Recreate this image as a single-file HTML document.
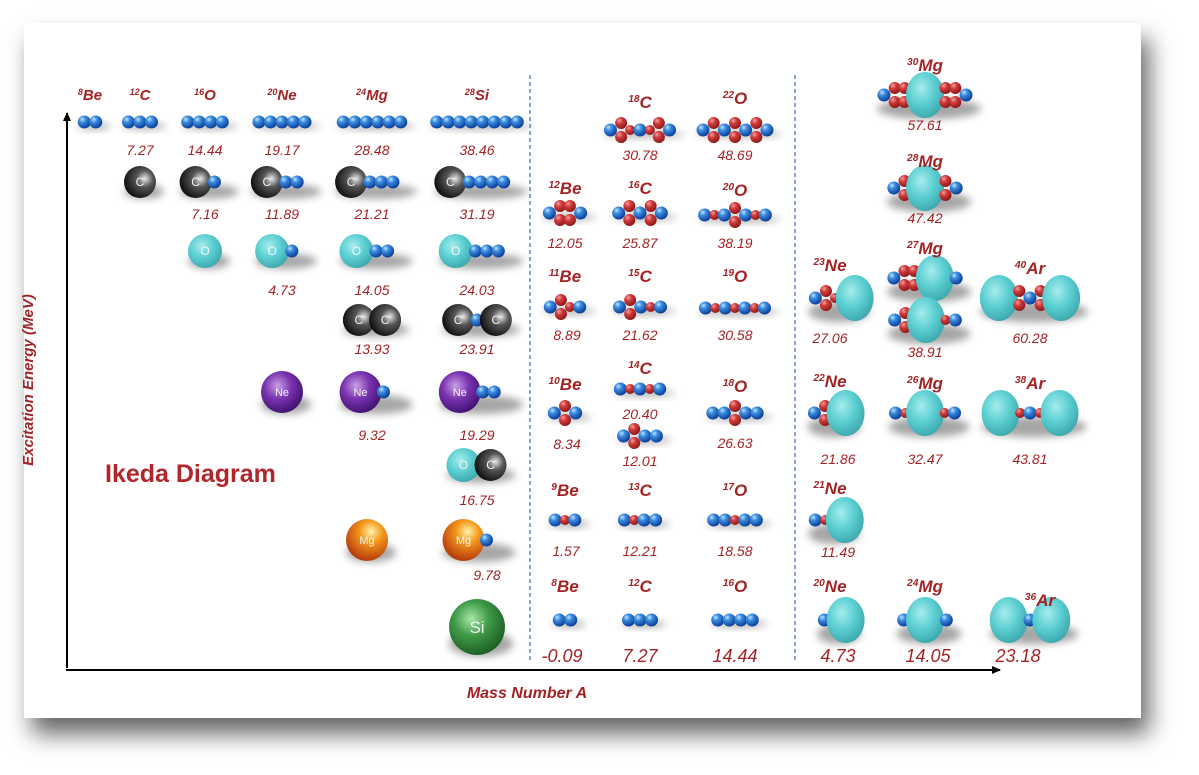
<!DOCTYPE html>
<html><head><meta charset="utf-8"><style>
html,body{margin:0;padding:0;background:#fff;width:1199px;height:775px;overflow:hidden}
#card{position:absolute;left:24px;top:23px;width:1117px;height:695px;background:#fff;box-shadow:8px 16px 22px rgba(0,0,0,0.6)}
svg{position:absolute;left:0;top:0}
text{font-family:"Liberation Sans",sans-serif}
</style></head><body>
<div id="card"></div>
<svg id="svg" width="1199" height="775">
<defs>
<radialGradient id="gb" cx="35%" cy="30%" r="70%"><stop offset="0" stop-color="#bfe6ff"/><stop offset="0.35" stop-color="#3c8de0"/><stop offset="1" stop-color="#0b3f9a"/></radialGradient>
<radialGradient id="gr" cx="35%" cy="30%" r="70%"><stop offset="0" stop-color="#f0a0a0"/><stop offset="0.4" stop-color="#d23a3a"/><stop offset="1" stop-color="#8e1a1a"/></radialGradient>
<radialGradient id="gk" cx="65%" cy="40%" r="75%"><stop offset="0" stop-color="#e8e8e8"/><stop offset="0.35" stop-color="#555"/><stop offset="1" stop-color="#000"/></radialGradient>
<radialGradient id="gc" cx="40%" cy="35%" r="70%"><stop offset="0" stop-color="#a6ecec"/><stop offset="0.5" stop-color="#5ccfd2"/><stop offset="1" stop-color="#3aa5aa"/></radialGradient>
<radialGradient id="gp" cx="40%" cy="35%" r="70%"><stop offset="0" stop-color="#c9a0e6"/><stop offset="0.45" stop-color="#7a34b0"/><stop offset="1" stop-color="#3c0e6a"/></radialGradient>
<radialGradient id="go" cx="60%" cy="30%" r="75%"><stop offset="0" stop-color="#fff4b0"/><stop offset="0.35" stop-color="#f59a1e"/><stop offset="1" stop-color="#b0300a"/></radialGradient>
<radialGradient id="gg" cx="40%" cy="35%" r="70%"><stop offset="0" stop-color="#a8e6a8"/><stop offset="0.45" stop-color="#3e9a46"/><stop offset="1" stop-color="#1a5a22"/></radialGradient>
<filter id="sh" x="-30%" y="-50%" width="160%" height="220%"><feGaussianBlur stdDeviation="4"/></filter>
<marker id="arr" markerWidth="10" markerHeight="10" refX="8" refY="5" orient="auto" markerUnits="userSpaceOnUse"><path d="M0,1 L9,5 L0,9 Z" fill="#000"/></marker>
</defs>
<line x1="67" y1="668" x2="67" y2="113" stroke="#000" stroke-width="2" marker-end="url(#arr)"/>
<line x1="66" y1="670" x2="1000" y2="670" stroke="#000" stroke-width="2" marker-end="url(#arr)"/>
<line x1="530" y1="75" x2="530" y2="660" stroke="#4a72c4" stroke-width="1.3" stroke-dasharray="4,3"/>
<line x1="795" y1="75" x2="795" y2="660" stroke="#4a72c4" stroke-width="1.3" stroke-dasharray="4,3"/>
<text x="33" y="380" transform="rotate(-90 33 380)" text-anchor="middle" font-size="15" font-weight="bold" font-style="italic" fill="#a32325">Excitation Energy (MeV)</text>
<text x="527" y="698" text-anchor="middle" font-size="16" font-weight="bold" font-style="italic" fill="#a32325">Mass Number A</text>
<text x="105" y="482" font-size="25" font-weight="bold" fill="#b0262a">Ikeda Diagram</text>
<g id="g"></g>
</svg>
<script>
const headerMass=[8,12,16,20,24,28, 18,22,12,16,20,11,15,19,10,14,18,9,13,17,8,12,16, 30,28,27,23,40,22,26,38,21,20,24,36];
const headerSym=['Be','C','O','Ne','Mg','Si','C','O','Be','C','O','Be','C','O','Be','C','O','Be','C','O','Be','C','O','Mg','Mg','Mg','Ne','Ar','Ne','Mg','Ar','Ne','Ne','Mg','Ar'];
const headerX=[90,140,205,282,372,477, 640,735,565,640,735,565,640,735,565,640,735,565,640,735,565,640,735, 925,925,925,830,1030,830,925,1030,830,830,925,1040];
const headerY=[100,100,100,100,100,100, 108,104,194,194,196,282,282,282,390,374,392,496,496,496,592,592,592, 71,167,254,271,274,387,389,389,494,592,592,606];
const molTok=['b b','b b b','b b b b','b b b b b','b b b b b b','b b b b b b b b',
 'C','C b','C b b','C b b b','C b b b b',
 'O','O b','O b b','O b b b',
 'C C','C b C','Ne','Ne b','Ne b b','O C','Mg','Mg b','Si',
 'b v r b r v b','b v b v b v b','b v v b','b v b v b','b r b v b r b',
 'b v r b','b v b r b','b r b r b r b','b v b','b r b r b','b v b b','b b v b b',
 'b r b','b r b b','b b r b b','b b','b b b','b b b b',
 'b v v X v v b','b v X v b','b v v X b','b v X r b','b v r X','X v b v X',
 'b v X','b r X r b','X r b r X','b r X','b X','b X b','X b X'];
const molX=[90,140,205,282,372,477, 140,205,282,372,477, 205,282,372,477, 372,477,282,372,477,477,367,475,477,
 640,735,565,640,735, 565,640,735,565,640,640,735, 565,640,735,565,640,735,
 925,925,925,925,835,1030, 830,925,1030,830,835,925,1030];
const molY=[122,122,122,122,122,122, 182,182,182,182,182, 251,251,251,251, 320,320,392,392,392,465,540,540,627,
 130,130,213,213,215,307,307,308,413,389,436,413,520,520,520,620,620,620,
 95,188,278,320,298,298, 413,413,413,520,620,620,620];
const valTxt=['7.27','14.44','19.17','28.48','38.46','7.16','11.89','21.21','31.19','4.73','14.05','24.03','13.93','23.91','9.32','19.29','16.75','9.78',
 '30.78','48.69','12.05','25.87','38.19','8.89','21.62','30.58','8.34','20.40','12.01','26.63','1.57','12.21','18.58','-0.09','7.27','14.44',
 '57.61','47.42','38.91','27.06','60.28','21.86','32.47','43.81','11.49','4.73','14.05','23.18'];
const valX=[140,205,282,372,477,205,282,372,477,282,372,477,372,477,372,477,477,487,
 640,735,565,640,735,567,640,735,567,640,640,735,566,640,735,562,640,735,
 925,925,925,830,1030,838,925,1030,838,838,928,1018];
const valY=[155,155,155,155,155,219,219,219,219,295,295,295,354,354,440,440,505,580,
 160,160,248,248,248,340,340,340,449,419,466,448,556,556,556,662,662,662,
 130,223,357,343,343,464,464,464,557,662,662,662];
const valBig=[33,34,35,45,46,47];

const NS='http://www.w3.org/2000/svg';
const G=document.getElementById('g');
function mk(t,a){const e=document.createElementNS(NS,t);for(const k in a)e.setAttribute(k,a[k]);return e;}
const HW={b:7,r:5,v:6,C:16,O:17,Ne:21,Mg:21,Si:28,X:19};
const FILL={b:'gb',r:'gr',v:'gr',C:'gk',O:'gc',Ne:'gp',Mg:'go',Si:'gg',X:'gc'};
function drawMol(tok,cx,cy,i){
  const t=tok.split(' ');const xs=[0];
  for(let k=1;k<t.length;k++){const p=t[k-1],c=t[k];let d=(p==='b'&&c==='b')?11.5:(HW[p]+HW[c])*0.82;xs.push(xs[k-1]+d);}
  const w=xs[xs.length-1];const x0=cx-w/2;
  const g=mk('g',{});
  
  
  const maxH=Math.max(...t.map(s=>s==='X'?23:HW[s]));
  g.appendChild(mk('ellipse',{cx:cx+4,cy:cy+maxH*0.6,rx:w/2+HW[t[0]]+4,ry:maxH*0.45,fill:'#000','fill-opacity':0.35,filter:'url(#sh)'}));
  t.forEach((s,k)=>{
    const x=x0+xs[k];
    if(s==='v'){g.appendChild(mk('circle',{cx:x,cy:cy-7,r:6,fill:'url(#gr)'}));g.appendChild(mk('circle',{cx:x,cy:cy+7,r:6,fill:'url(#gr)'}));}
    else if(s==='X'){g.appendChild(mk('ellipse',{cx:x,cy:cy,rx:19,ry:23,fill:'url(#gc)'}));}
    else{g.appendChild(mk('circle',{cx:x,cy:cy,r:HW[s]+(s==='b'?-0.5:0),fill:'url(#'+FILL[s]+')'}));
      if(['C','O','Ne','Mg','Si'].includes(s)){const tx=mk('text',{x:x,y:cy+(s==='Si'?6:4),'text-anchor':'middle','font-size':s==='Si'?17:(s==='C'||s==='O'?12:11),fill:'#f4f4f4'});tx.textContent=s;g.appendChild(tx);}}
  });
  G.appendChild(g);
}
molTok.forEach((m,i)=>drawMol(m,molX[i],molY[i],i));
headerMass.forEach((m,i)=>{
  const left=i<6;const fs=left?15:17;
  const t=mk('text',{x:headerX[i],y:headerY[i],'text-anchor':'middle','font-size':fs,'font-weight':'bold','font-style':'italic',fill:'#a32325'});
  
  
  const s=mk('tspan',{'font-size':fs*0.6,dy:-fs*0.35});s.textContent=m;
  const n=mk('tspan',{dy:fs*0.35});n.textContent=headerSym[i];
  t.appendChild(s);t.appendChild(n);G.appendChild(t);
});
valTxt.forEach((v,i)=>{
  const big=valBig.includes(i);
  const t=mk('text',{x:valX[i],y:valY[i],'text-anchor':'middle','font-size':big?18:14,'font-style':'italic',fill:'#a32325'});
  
  
  t.textContent=v;G.appendChild(t);
});
</script>
</body></html>
